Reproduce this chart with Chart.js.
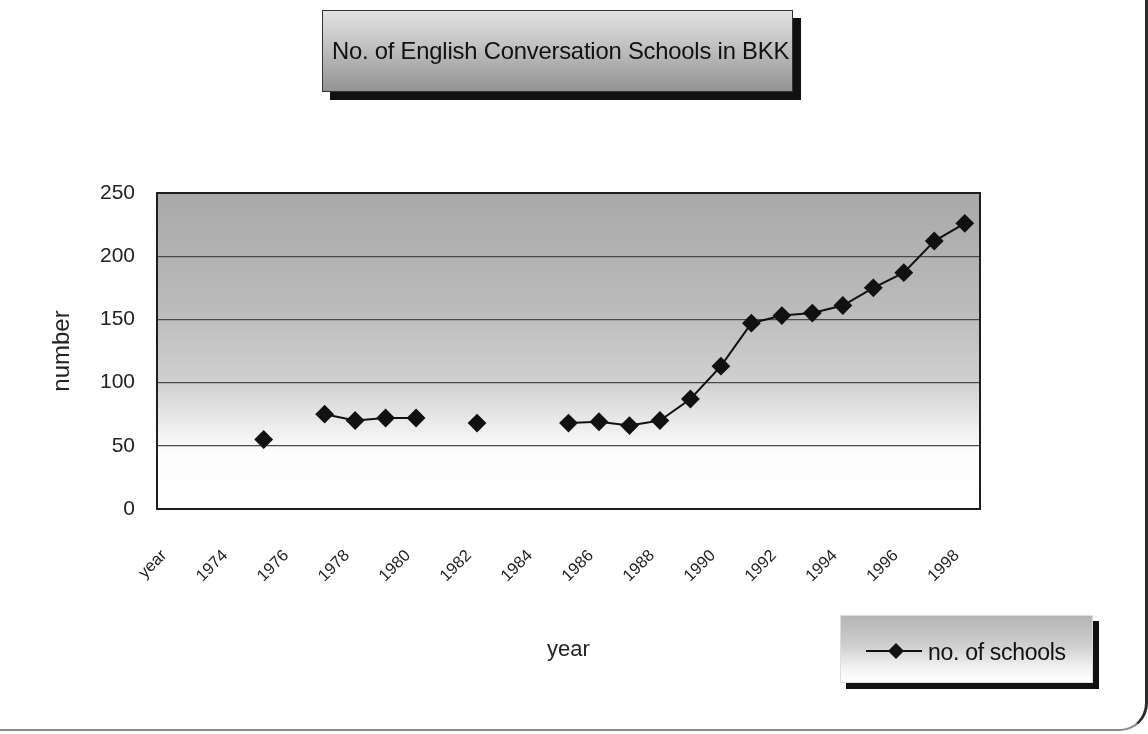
<!DOCTYPE html>
<html>
<head>
<meta charset="utf-8">
<script src="https://cdn.jsdelivr.net/npm/chart.js@4.4.1/dist/chart.umd.min.js"></script>
<style>
  html, body { margin: 0; padding: 0; background: #fff; }
  #wrap { position: relative; width: 1148px; height: 734px; overflow: hidden; background: #fff; font-family: "Liberation Sans", Arial, sans-serif; }
  #c { position: absolute; left: 0; top: 0; }
  #frame { position: absolute; left: -20px; top: -20px; width: 1168px; height: 751px; box-sizing: border-box;
           border-right: 3px solid #2a2a2a; border-bottom: 2px solid #8a8a8a; border-bottom-right-radius: 28px; pointer-events: none; }
  #titlebox { position: absolute; left: 322px; top: 10px; width: 471px; height: 82px; box-sizing: border-box;
              border: 1px solid #333; background: linear-gradient(to bottom, #e2e2e2 0%, #c4c4c4 40%, #939393 100%);
              box-shadow: 8px 8px 0 #111; display: flex; align-items: center; justify-content: center; }
  #titlebox span { font-size: 23.8px; color: #111; white-space: nowrap; letter-spacing: -0.2px; margin-left: 6px; }
  #legendbox { position: absolute; left: 840px; top: 615px; width: 253px; height: 68px; box-sizing: border-box;
               border: 1px solid #ddd; background: linear-gradient(to bottom, #b5b5b5 0%, #cfcfcf 45%, #f4f4f4 80%, #ffffff 100%);
               box-shadow: 6px 6px 0 #111; }
  #legendbox svg { position: absolute; left: 24px; top: 24px; }
  #legendbox span { position: absolute; left: 87px; top: 23px; font-size: 23px; color: #111; white-space: nowrap; letter-spacing: -0.3px; }
</style>
</head>
<body>
<div id="wrap">
  <canvas id="c" width="1148" height="734"></canvas>
  <div id="titlebox"><span>No. of English Conversation Schools in BKK</span></div>
  <div id="legendbox">
    <svg width="58" height="22" viewBox="0 0 58 22"><line x1="1" y1="11" x2="57" y2="11" stroke="#111" stroke-width="2"/><polygon points="31,3 39,11 31,19 23,11" fill="#111"/></svg>
    <span>no. of schools</span>
  </div>
  <div id="frame"></div>
</div>
<script>
const categories = ['year', '1973', '1974', '1975', '1976', '1977', '1978', '1979', '1980', '1981',
                    '1982', '1983', '1984', '1985', '1986', '1987', '1988', '1989', '1990', '1991',
                    '1992', '1993', '1994', '1995', '1996', '1997', '1998'];
const schools = [null, null, null, 55, null, 75, 70, 72, 72, null,
                 68, null, null, 68, 69, 66, 70, 87, 113, 147,
                 153, 155, 161, 175, 187, 212, 226];
const yTicks = [0, 50, 100, 150, 200, 250];
const seriesName = 'no. of schools';
const xTitle = 'year';
const yTitle = 'number';

const plotDeco = {
  id: 'plotDeco',
  beforeDraw(chart) {
    const { ctx, chartArea: a } = chart;
    const g = ctx.createLinearGradient(0, a.top, 0, a.bottom);
    g.addColorStop(0, '#a9a9a9');
    g.addColorStop(0.35, '#bababa');
    g.addColorStop(0.6, '#d0d0d0');
    g.addColorStop(0.74, '#ededed');
    g.addColorStop(0.82, '#fdfdfd');
    g.addColorStop(1, '#ffffff');
    ctx.save();
    ctx.fillStyle = g;
    ctx.fillRect(a.left, a.top, a.right - a.left, a.bottom - a.top);
    ctx.restore();
  },
  afterDatasetsDraw(chart) {
    const { ctx, chartArea: a } = chart;
    ctx.save();
    ctx.strokeStyle = '#1e1e1e';
    ctx.lineWidth = 2;
    ctx.strokeRect(a.left, a.top, a.right - a.left, a.bottom - a.top);
    ctx.restore();
  }
};

new Chart(document.getElementById('c'), {
  type: 'line',
  data: {
    labels: categories,
    datasets: [{
      label: seriesName,
      data: schools,
      borderColor: '#111',
      backgroundColor: '#111',
      borderWidth: 2,
      pointStyle: 'rectRot',
      pointRadius: 8,
      pointHoverRadius: 8,
      pointBackgroundColor: '#111',
      pointBorderColor: '#111',
      spanGaps: false,
      tension: 0
    }]
  },
  options: {
    responsive: false,
    animation: false,
    events: [],
    layout: { padding: { left: 44, top: 193, right: 168, bottom: 0 } },
    plugins: { legend: { display: false }, title: { display: false }, tooltip: { enabled: false } },
    scales: {
      x: {
        type: 'category',
        offset: true,
        grid: { display: false, drawTicks: false },
        border: { display: false },
        title: { display: true, text: xTitle, color: '#222', font: { family: '"Liberation Sans", Arial, sans-serif', size: 22 }, padding: { top: 0, bottom: 71 } },
        ticks: {
          autoSkip: false,
          maxRotation: 45,
          minRotation: 45,
          padding: 37,
          labelOffset: -8,
          color: '#222',
          font: { family: '"Liberation Sans", Arial, sans-serif', size: 16.5 },
          callback: function (v, i) { return i % 2 === 0 ? this.getLabelForValue(v) : ''; }
        },
        afterFit(s) { s.height = 225; }
      },
      y: {
        min: 0,
        max: 250,
        afterBuildTicks(s) { s.ticks = yTicks.map(v => ({ value: v })); },
        grid: { color: '#4a4a4a', lineWidth: 1.2, drawTicks: false },
        border: { display: false },
        title: { display: true, text: yTitle, color: '#222', font: { family: '"Liberation Sans", Arial, sans-serif', size: 24 }, padding: { bottom: 30 } },
        ticks: {
          padding: 22,
          color: '#222',
          font: { family: '"Liberation Sans", Arial, sans-serif', size: 21 }
        },
        afterFit(s) { s.width = 113; }
      }
    }
  },
  plugins: [plotDeco]
});
</script>
</body>
</html>
